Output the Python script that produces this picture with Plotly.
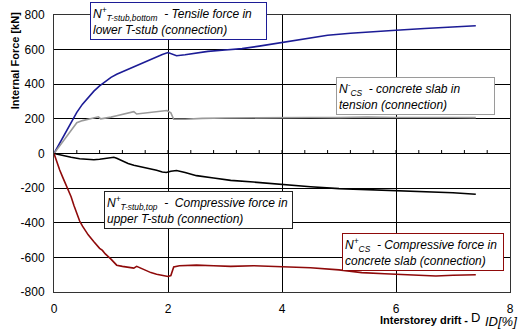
import plotly.graph_objects as go

# Interstorey drift [%] and internal forces [kN] for each component
drift_tb = [0, 0.1, 0.2, 0.3, 0.4, 0.5, 0.6, 0.7, 0.8, 0.9, 1.0, 1.1, 1.2, 1.3, 1.4, 1.5, 1.6,
            1.7, 1.8, 1.9, 2.0, 2.05, 2.15, 2.3, 2.5, 2.7, 3.0, 3.3, 3.6, 4.0, 4.4, 4.8, 5.2,
            5.6, 6.0, 6.5, 7.0, 7.4]
force_tb = [0, 60, 120, 180, 238, 285, 325, 360, 390, 415, 440, 458, 472, 487, 502, 516, 530,
            545, 560, 572, 583, 578, 565, 570, 580, 590, 598, 606, 620, 640, 660, 683, 695,
            705, 712, 722, 730, 738]

drift_cst = [0, 0.1, 0.2, 0.3, 0.4, 0.5, 0.6, 0.7, 0.78, 0.82, 0.9, 1.0, 1.1, 1.2, 1.3, 1.4,
             1.45, 1.5, 1.6, 1.7, 1.8, 1.9, 1.98, 2.05, 2.1, 2.3, 2.6, 3.0, 3.5, 4.0, 4.5,
             5.0, 5.5, 6.0, 6.5, 7.0, 7.4]
force_cst = [0, 45, 95, 140, 178, 190, 198, 205, 212, 200, 203, 210, 218, 225, 235, 242,
             228, 230, 236, 240, 244, 246, 248, 235, 198, 198, 203, 205, 207, 206, 208,
             207, 210, 208, 210, 208, 207]

drift_tt = [0, 0.1, 0.2, 0.3, 0.45, 0.6, 0.7, 0.8, 0.9, 1.0, 1.05, 1.1, 1.2, 1.3, 1.4, 1.5,
            1.6, 1.7, 1.8, 1.9, 1.97, 2.05, 2.15, 2.3, 2.5, 2.8, 3.1, 3.5, 4.0, 4.5, 5.0,
            5.5, 6.0, 6.5, 7.0, 7.4]
force_tt = [0, -8, -15, -22, -30, -35, -36, -33, -30, -27, -22, -28, -45, -58, -68, -75,
            -80, -87, -97, -107, -110, -103, -98, -110, -128, -142, -155, -165, -180, -192,
            -203, -208, -213, -220, -227, -235]

drift_csc = [0, 0.05, 0.1, 0.15, 0.2, 0.25, 0.3, 0.35, 0.4, 0.45, 0.5, 0.6, 0.7, 0.8, 0.85,
             0.9, 1.0, 1.1, 1.2, 1.3, 1.4, 1.45, 1.5, 1.6, 1.7, 1.8, 1.9, 2.0, 2.05, 2.1,
             2.2, 2.5, 2.8, 3.1, 3.5, 4.0, 4.5, 5.0, 5.4, 5.8, 6.2, 6.7, 7.0, 7.4]
force_csc = [0, -50, -95, -135, -170, -205, -250, -300, -350, -390, -420, -470, -510, -548,
             -560, -580, -610, -645, -652, -657, -662, -652, -660, -675, -688, -697, -702,
             -710, -705, -655, -648, -645, -648, -652, -648, -652, -660, -672, -688, -695,
             -700, -708, -703, -700]

x_ticks = [0, 2, 4, 6, 8]
x_minor_ticks = [0.4, 0.8, 1.2, 1.6, 2.0, 2.4, 2.8, 3.2, 3.6, 4.0, 4.4, 4.8, 5.2, 5.6,
                 6.0, 6.4, 6.8, 7.2, 7.6]
y_ticks = [800, 600, 400, 200, 0, -200, -400, -600, -800]

FONT = "Liberation Sans, Arial, sans-serif"

fig = go.Figure()

# Small upward tick marks sitting on the zero line
fig.add_trace(go.Scatter(
    x=x_minor_ticks, y=[0] * len(x_minor_ticks), mode="markers",
    marker=dict(size=1, color="rgba(0,0,0,0)"), hoverinfo="skip",
    error_y=dict(type="constant", value=20, symmetric=False, valueminus=0,
                 width=0, thickness=1, color="black")))

fig.add_trace(go.Scatter(x=drift_tb, y=force_tb, mode="lines",
                         line=dict(color="#1c1c96", width=1.6)))
fig.add_trace(go.Scatter(x=drift_cst, y=force_cst, mode="lines",
                         line=dict(color="#9a9a9a", width=1.6)))
fig.add_trace(go.Scatter(x=drift_tt, y=force_tt, mode="lines",
                         line=dict(color="#000000", width=1.6)))
fig.add_trace(go.Scatter(x=drift_csc, y=force_csc, mode="lines",
                         line=dict(color="#8f0a0a", width=1.6)))

fig.update_layout(
    width=519, height=329,
    margin=dict(l=54, r=5, t=15, b=37),
    paper_bgcolor="white", plot_bgcolor="white",
    showlegend=False,
    font=dict(family=FONT, size=12, color="black"),
    xaxis=dict(range=[0, 8], tickvals=x_ticks, ticktext=[str(v) for v in x_ticks],
               showgrid=True, gridcolor="black", gridwidth=1,
               showline=True, linecolor="#333", linewidth=1, mirror=True,
               zeroline=False, ticks="", ticklabelstandoff=6,
               tickfont=dict(size=12)),
    yaxis=dict(range=[-800, 800], tickvals=y_ticks, ticktext=[str(v) for v in y_ticks],
               showgrid=True, gridcolor="black", gridwidth=1,
               showline=True, linecolor="#333", linewidth=1, mirror=True,
               zeroline=True, zerolinecolor="black", zerolinewidth=1,
               ticks="", ticklabelstandoff=6, tickfont=dict(size=12)),
)


def px_to_paper_x(px):
    return (px - 54) / 460.0


def px_to_paper_y(py):
    return (292 - py) / 277.0


box_font = dict(family=FONT, size=12, color="black")
# text, left px, top px, width px, border colour
labels = [
    ("<i>N<sup>+</sup><sub>T-stub,bottom</sub>  - Tensile force in<br>lower T-stub (connection)</i>",
     90, 2, 177, "#1c1c96"),
    ("<i>N<sup>-</sup><sub>CS</sub>  - concrete slab in<br>tension (connection)</i>",
     338, 77, 159, "#9a9a9a"),
    ("<i>N<sup>+</sup><sub>T-stub,top</sub>  -  Compressive force in<br>upper T-stub (connection)</i>",
     104, 191, 189, "#222222"),
    ("<i>N<sup>+</sup><sub>CS</sub>  - Compressive force in<br>concrete slab (connection)</i>",
     345, 233, 162, "#8f0a0a"),
]
for text, lx, ty, w, col in labels:
    fig.add_annotation(x=px_to_paper_x(lx), y=px_to_paper_y(ty), xref="paper", yref="paper",
                       xanchor="left", yanchor="top", text=text, showarrow=False,
                       align="left", width=w - 6, font=box_font, bgcolor="white",
                       bordercolor=col, borderwidth=1, borderpad=2)

fig.add_annotation(text="<b>Internal Force [kN]</b>", xref="paper", yref="paper",
                   x=px_to_paper_x(15), y=px_to_paper_y(60), xanchor="center",
                   yanchor="middle", textangle=-90, showarrow=False,
                   font=dict(family=FONT, size=11, color="black"))

# x axis title: bold words, a raised "D", then the italic subscript
title_parts = [
    ("<b>Interstorey drift -</b>", 472, 320, "right", 11),
    ("D", 475, 317, "left", 13),
    ("<i>ID[%]</i>", 521, 321, "right", 13),
]
for text, px, py, anchor, size in title_parts:
    fig.add_annotation(text=text, xref="paper", yref="paper",
                       x=px_to_paper_x(px), y=px_to_paper_y(py), xanchor=anchor,
                       yanchor="middle", showarrow=False, borderpad=0, borderwidth=0,
                       font=dict(family=FONT, size=size, color="black"))

fig.write_html("out.html")
